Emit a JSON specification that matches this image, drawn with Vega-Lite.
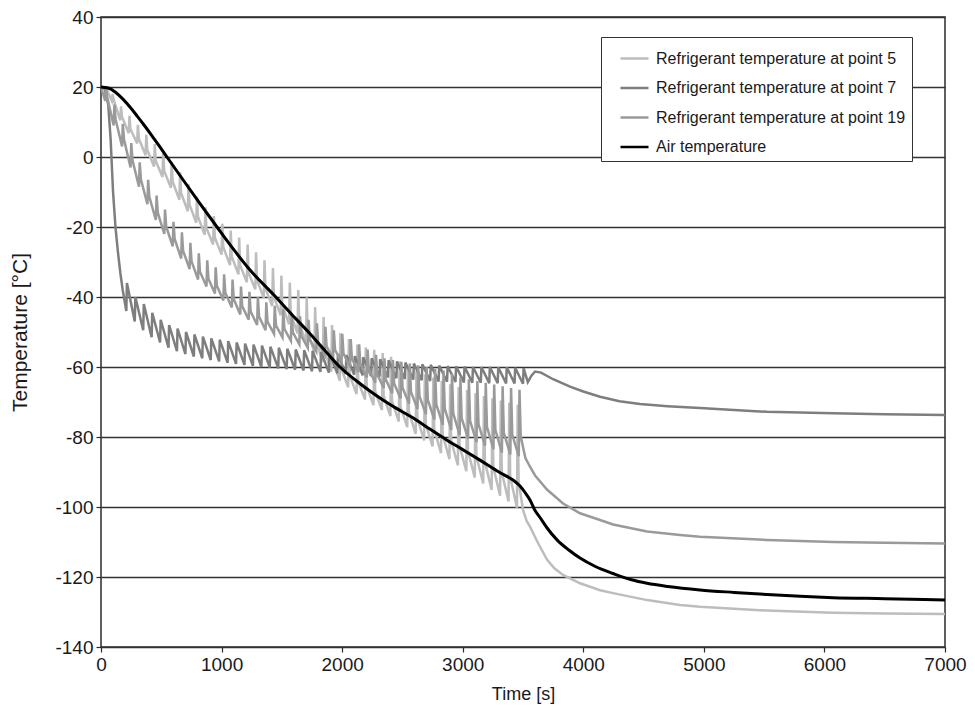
{
  "$schema": "https://vega.github.io/schema/vega-lite/v6.json",
  "width": 844,
  "height": 630,
  "autosize": "none",
  "padding": {"left": 101, "top": 17, "right": 30, "bottom": 68},
  "background": "white",
  "config": {
    "font": "Liberation Sans",
    "view": {"stroke": "#2b2b2b", "strokeWidth": 1.5},
    "axis": {
      "labelFont": "Liberation Sans",
      "titleFont": "Liberation Sans",
      "labelColor": "#1a1a1a",
      "titleColor": "#1a1a1a",
      "titleFontWeight": "normal",
      "tickColor": "#2b2b2b",
      "tickWidth": 1.2,
      "domain": false,
      "tickSize": 5,
      "labelFontSize": 19
    },
    "legend": {
      "labelFont": "Liberation Sans",
      "labelFontSize": 16,
      "labelColor": "#1a1a1a"
    }
  },
  "datasets": {
    "p5": [
      {"t":0,"v":20},{"t":45,"v":19.5},
      {"t":90,"v":16},{"t":96,"v":18},{"t":104,"v":16.5},
      {"t":160,"v":10.5},{"t":166,"v":14.5},{"t":174,"v":11.5},
      {"t":230,"v":6.8},{"t":236,"v":11.8},{"t":244,"v":8.0},
      {"t":300,"v":3.9},{"t":306,"v":9.2},{"t":314,"v":5.2},
      {"t":370,"v":0.5},{"t":376,"v":6.4},{"t":384,"v":2.0},
      {"t":440,"v":-2.7},{"t":446,"v":3.7},{"t":454,"v":-1.1},
      {"t":510,"v":-5.7},{"t":516,"v":1.3},{"t":524,"v":-4.0},
      {"t":580,"v":-8.8},{"t":586,"v":-1.4},{"t":594,"v":-7.0},
      {"t":650,"v":-12.2},{"t":656,"v":-4.4},{"t":664,"v":-10.3},
      {"t":720,"v":-15.5},{"t":726,"v":-7.8},{"t":734,"v":-13.6},
      {"t":790,"v":-18.8},{"t":796,"v":-11.4},{"t":804,"v":-17.0},
      {"t":860,"v":-22.2},{"t":866,"v":-14.4},{"t":874,"v":-20.3},
      {"t":930,"v":-25.0},{"t":936,"v":-16.9},{"t":944,"v":-23.0},
      {"t":1000,"v":-27.9},{"t":1006,"v":-19.1},{"t":1014,"v":-25.7},
      {"t":1070,"v":-30.9},{"t":1076,"v":-21.0},{"t":1084,"v":-28.4},
      {"t":1140,"v":-33.5},{"t":1146,"v":-23.0},{"t":1154,"v":-30.9},
      {"t":1210,"v":-35.8},{"t":1216,"v":-25.0},{"t":1224,"v":-33.1},
      {"t":1280,"v":-37.8},{"t":1286,"v":-27.2},{"t":1294,"v":-35.2},
      {"t":1350,"v":-40.2},{"t":1356,"v":-29.5},{"t":1364,"v":-37.5},
      {"t":1420,"v":-42.6},{"t":1426,"v":-31.7},{"t":1434,"v":-39.9},
      {"t":1490,"v":-45.2},{"t":1496,"v":-33.9},{"t":1504,"v":-42.4},
      {"t":1560,"v":-47.8},{"t":1566,"v":-35.9},{"t":1574,"v":-44.8},
      {"t":1630,"v":-50.4},{"t":1636,"v":-38.0},{"t":1644,"v":-47.3},
      {"t":1700,"v":-53.1},{"t":1706,"v":-40.1},{"t":1714,"v":-49.9},
      {"t":1770,"v":-55.8},{"t":1776,"v":-42.9},{"t":1784,"v":-52.6},
      {"t":1840,"v":-58.6},{"t":1846,"v":-45.7},{"t":1854,"v":-55.4},
      {"t":1910,"v":-61.3},{"t":1916,"v":-48.0},{"t":1924,"v":-58.0},
      {"t":1980,"v":-63.9},{"t":1986,"v":-50.3},{"t":1994,"v":-60.5},
      {"t":2050,"v":-65.8},{"t":2056,"v":-52.0},{"t":2064,"v":-62.4},
      {"t":2120,"v":-67.7},{"t":2126,"v":-53.6},{"t":2134,"v":-64.2},
      {"t":2190,"v":-69.3},{"t":2196,"v":-54.4},{"t":2204,"v":-65.6},
      {"t":2260,"v":-70.9},{"t":2266,"v":-55.1},{"t":2274,"v":-67.0},
      {"t":2330,"v":-72.3},{"t":2336,"v":-56.0},{"t":2344,"v":-68.2},
      {"t":2400,"v":-74.0},{"t":2406,"v":-57.1},{"t":2414,"v":-69.8},
      {"t":2470,"v":-75.6},{"t":2476,"v":-58.4},{"t":2484,"v":-71.3},
      {"t":2540,"v":-77.2},{"t":2546,"v":-59.8},{"t":2554,"v":-72.9},
      {"t":2610,"v":-79.1},{"t":2616,"v":-61.1},{"t":2624,"v":-74.6},
      {"t":2680,"v":-81.0},{"t":2686,"v":-62.1},{"t":2694,"v":-76.3},
      {"t":2750,"v":-82.7},{"t":2756,"v":-63.0},{"t":2764,"v":-77.8},
      {"t":2820,"v":-84.6},{"t":2826,"v":-63.9},{"t":2834,"v":-79.4},
      {"t":2890,"v":-86.3},{"t":2896,"v":-64.9},{"t":2904,"v":-81.0},
      {"t":2960,"v":-88.1},{"t":2966,"v":-65.7},{"t":2974,"v":-82.5},
      {"t":3030,"v":-89.8},{"t":3036,"v":-66.6},{"t":3044,"v":-84.0},
      {"t":3100,"v":-91.6},{"t":3106,"v":-67.5},{"t":3114,"v":-85.6},
      {"t":3170,"v":-93.3},{"t":3176,"v":-68.3},{"t":3184,"v":-87.1},
      {"t":3240,"v":-95.1},{"t":3246,"v":-68.9},{"t":3254,"v":-88.6},
      {"t":3310,"v":-96.8},{"t":3316,"v":-69.6},{"t":3324,"v":-90.0},
      {"t":3380,"v":-98.4},{"t":3386,"v":-70.2},{"t":3394,"v":-91.4},
      {"t":3450,"v":-100.2},{"t":3456,"v":-70.8},{"t":3464,"v":-92.9},
      {"t":3500,"v":-100.8},{"t":3530,"v":-104},{"t":3558,"v":-105.6},{"t":3620,"v":-110},{"t":3699,"v":-115},{"t":3760,"v":-117.5},{"t":3832,"v":-119.4},{"t":3973,"v":-121.8},{"t":4139,"v":-123.8},{"t":4247,"v":-124.6},{"t":4529,"v":-126.6},{"t":4802,"v":-128},{"t":4968,"v":-128.5},{"t":5250,"v":-129.1},{"t":5524,"v":-129.6},{"t":6071,"v":-130.2},{"t":6500,"v":-130.4},{"t":7000,"v":-130.6}
    ],
    "p7": [
      {"t":0,"v":20},{"t":30,"v":19.5},{"t":60,"v":15},{"t":80,"v":5},{"t":100,"v":-10},{"t":120,"v":-20},{"t":140,"v":-27},{"t":160,"v":-33},{"t":180,"v":-38},{"t":200,"v":-42},
      {"t":210,"v":-44},{"t":215,"v":-36},
      {"t":280,"v":-47},{"t":285,"v":-40},
      {"t":350,"v":-49.5},{"t":355,"v":-42},
      {"t":420,"v":-51.5},{"t":425,"v":-44.5},
      {"t":490,"v":-53},{"t":495,"v":-46.5},
      {"t":560,"v":-54.5},{"t":565,"v":-48},
      {"t":630,"v":-55.5},{"t":635,"v":-49},
      {"t":700,"v":-56.3},{"t":705,"v":-50},
      {"t":770,"v":-57},{"t":775,"v":-50.7},
      {"t":840,"v":-57.5},{"t":845,"v":-51.3},
      {"t":910,"v":-58},{"t":915,"v":-51.8},
      {"t":980,"v":-58.4},{"t":985,"v":-52.2},
      {"t":1050,"v":-58.8},{"t":1055,"v":-52.6},
      {"t":1120,"v":-59.1},{"t":1125,"v":-53},
      {"t":1190,"v":-59.4},{"t":1195,"v":-53.3},
      {"t":1260,"v":-59.7},{"t":1265,"v":-53.6},
      {"t":1330,"v":-60},{"t":1335,"v":-53.9},
      {"t":1400,"v":-60.2},{"t":1405,"v":-54.2},
      {"t":1470,"v":-60.4},{"t":1475,"v":-54.5},
      {"t":1540,"v":-60.6},{"t":1545,"v":-54.8},
      {"t":1610,"v":-60.8},{"t":1615,"v":-55},
      {"t":1680,"v":-61},{"t":1685,"v":-55.2},
      {"t":1750,"v":-61.2},{"t":1755,"v":-55.4},
      {"t":1820,"v":-61.4},{"t":1825,"v":-55.7},
      {"t":1890,"v":-61.6},{"t":1895,"v":-56},
      {"t":1960,"v":-61.8},{"t":1965,"v":-56.3},
      {"t":2030,"v":-62},{"t":2035,"v":-56.6},
      {"t":2100,"v":-62.2},{"t":2105,"v":-56.9},
      {"t":2170,"v":-62.4},{"t":2175,"v":-57.2},
      {"t":2240,"v":-62.6},{"t":2245,"v":-57.5},
      {"t":2310,"v":-62.8},{"t":2315,"v":-57.8},
      {"t":2380,"v":-63},{"t":2385,"v":-58.1},
      {"t":2450,"v":-63.2},{"t":2455,"v":-58.4},
      {"t":2520,"v":-63.4},{"t":2525,"v":-58.7},
      {"t":2590,"v":-63.6},{"t":2595,"v":-59},
      {"t":2660,"v":-63.8},{"t":2665,"v":-59.2},
      {"t":2730,"v":-64},{"t":2735,"v":-59.4},
      {"t":2800,"v":-64.1},{"t":2805,"v":-59.6},
      {"t":2870,"v":-64.2},{"t":2875,"v":-59.7},
      {"t":2940,"v":-64.3},{"t":2945,"v":-59.8},
      {"t":3010,"v":-64.4},{"t":3015,"v":-59.9},
      {"t":3080,"v":-64.5},{"t":3085,"v":-60},
      {"t":3150,"v":-64.5},{"t":3155,"v":-60},
      {"t":3220,"v":-64.6},{"t":3225,"v":-60},
      {"t":3290,"v":-64.6},{"t":3295,"v":-60.1},
      {"t":3360,"v":-64.7},{"t":3365,"v":-60.1},
      {"t":3430,"v":-64.7},{"t":3435,"v":-60.2},
      {"t":3500,"v":-64.8},{"t":3505,"v":-60.3},
      {"t":3540,"v":-64.3},{"t":3570,"v":-62.5},{"t":3600,"v":-61.3},{"t":3650,"v":-61.6},{"t":3750,"v":-63.5},{"t":3890,"v":-65.6},{"t":4000,"v":-67},{"t":4139,"v":-68.5},{"t":4300,"v":-69.8},{"t":4470,"v":-70.6},{"t":4700,"v":-71.2},{"t":4968,"v":-71.7},{"t":5250,"v":-72.3},{"t":5524,"v":-72.8},{"t":6071,"v":-73.2},{"t":6500,"v":-73.5},{"t":7000,"v":-73.7}
    ],
    "p19": [
      {"t":0,"v":20},
      {"t":35,"v":16},{"t":41,"v":20},{"t":51,"v":17.2},
      {"t":105,"v":9},{"t":111,"v":15},{"t":121,"v":10.8},
      {"t":175,"v":3},{"t":181,"v":9.5},{"t":191,"v":5.0},
      {"t":245,"v":-3},{"t":251,"v":4},{"t":261,"v":-0.9},
      {"t":315,"v":-8.5},{"t":321,"v":-1.5},{"t":331,"v":-6.4},
      {"t":385,"v":-13.5},{"t":391,"v":-6.5},{"t":401,"v":-11.4},
      {"t":455,"v":-18},{"t":461,"v":-11},{"t":471,"v":-15.9},
      {"t":525,"v":-22},{"t":531,"v":-15},{"t":541,"v":-19.9},
      {"t":595,"v":-25.5},{"t":601,"v":-18.5},{"t":611,"v":-23.4},
      {"t":665,"v":-29},{"t":671,"v":-21.5},{"t":681,"v":-26.8},
      {"t":735,"v":-32},{"t":741,"v":-24.5},{"t":751,"v":-29.8},
      {"t":805,"v":-35},{"t":811,"v":-27.5},{"t":821,"v":-32.8},
      {"t":875,"v":-37},{"t":881,"v":-29.5},{"t":891,"v":-34.8},
      {"t":945,"v":-39},{"t":951,"v":-31.5},{"t":961,"v":-36.8},
      {"t":1015,"v":-41},{"t":1021,"v":-33.5},{"t":1031,"v":-38.8},
      {"t":1085,"v":-43},{"t":1091,"v":-35},{"t":1101,"v":-40.6},
      {"t":1155,"v":-45},{"t":1161,"v":-37},{"t":1171,"v":-42.6},
      {"t":1225,"v":-46.5},{"t":1231,"v":-38.5},{"t":1241,"v":-44.1},
      {"t":1295,"v":-48},{"t":1301,"v":-40},{"t":1311,"v":-45.6},
      {"t":1365,"v":-49.5},{"t":1371,"v":-41.5},{"t":1381,"v":-47.1},
      {"t":1435,"v":-50.5},{"t":1441,"v":-42.5},{"t":1451,"v":-48.1},
      {"t":1505,"v":-51.5},{"t":1511,"v":-43.5},{"t":1521,"v":-49.1},
      {"t":1575,"v":-52.5},{"t":1581,"v":-44.5},{"t":1591,"v":-50.1},
      {"t":1645,"v":-53.5},{"t":1651,"v":-45.5},{"t":1661,"v":-51.1},
      {"t":1715,"v":-54.5},{"t":1721,"v":-46.5},{"t":1731,"v":-52.1},
      {"t":1785,"v":-55.5},{"t":1791,"v":-47.5},{"t":1801,"v":-53.1},
      {"t":1855,"v":-56.5},{"t":1861,"v":-48.5},{"t":1871,"v":-54.1},
      {"t":1925,"v":-57.5},{"t":1931,"v":-49.5},{"t":1941,"v":-55.1},
      {"t":1995,"v":-58.5},{"t":2001,"v":-50.5},{"t":2011,"v":-56.1},
      {"t":2065,"v":-60},{"t":2071,"v":-52},{"t":2081,"v":-57.6},
      {"t":2135,"v":-61.5},{"t":2141,"v":-53.5},{"t":2151,"v":-59.1},
      {"t":2205,"v":-63},{"t":2211,"v":-55},{"t":2221,"v":-60.6},
      {"t":2275,"v":-64.5},{"t":2281,"v":-56.5},{"t":2291,"v":-62.1},
      {"t":2345,"v":-66},{"t":2351,"v":-57.5},{"t":2361,"v":-63.5},
      {"t":2415,"v":-67.5},{"t":2421,"v":-58},{"t":2431,"v":-64.7},
      {"t":2485,"v":-69},{"t":2491,"v":-58.5},{"t":2501,"v":-65.9},
      {"t":2555,"v":-70.5},{"t":2561,"v":-59},{"t":2571,"v":-67.1},
      {"t":2625,"v":-72},{"t":2631,"v":-59.5},{"t":2641,"v":-68.3},
      {"t":2695,"v":-73.5},{"t":2701,"v":-60},{"t":2711,"v":-69.5},
      {"t":2765,"v":-75},{"t":2771,"v":-60.5},{"t":2781,"v":-70.7},
      {"t":2835,"v":-76.5},{"t":2841,"v":-61},{"t":2851,"v":-71.9},
      {"t":2905,"v":-78},{"t":2911,"v":-62},{"t":2921,"v":-73.2},
      {"t":2975,"v":-79.5},{"t":2981,"v":-63},{"t":2991,"v":-74.6},
      {"t":3045,"v":-80.5},{"t":3051,"v":-63.5},{"t":3061,"v":-75.4},
      {"t":3115,"v":-81.5},{"t":3121,"v":-64},{"t":3131,"v":-76.3},
      {"t":3185,"v":-82.5},{"t":3191,"v":-64.5},{"t":3201,"v":-77.1},
      {"t":3255,"v":-83.5},{"t":3261,"v":-65},{"t":3271,"v":-78.0},
      {"t":3325,"v":-84.5},{"t":3331,"v":-65.5},{"t":3341,"v":-78.8},
      {"t":3395,"v":-85},{"t":3401,"v":-66},{"t":3411,"v":-79.3},
      {"t":3465,"v":-85.5},{"t":3471,"v":-66.5},{"t":3481,"v":-79.8},
      {"t":3520,"v":-86},{"t":3558,"v":-88.5},{"t":3600,"v":-91},{"t":3699,"v":-95},{"t":3832,"v":-99},{"t":3973,"v":-101.8},{"t":4139,"v":-103.7},{"t":4247,"v":-105},{"t":4529,"v":-107},{"t":4802,"v":-108},{"t":4968,"v":-108.5},{"t":5524,"v":-109.4},{"t":6071,"v":-110},{"t":6500,"v":-110.2},{"t":7000,"v":-110.4}
    ],
    "air": [
      {"t":0,"v":20},{"t":60,"v":19.7},{"t":120,"v":18.5},{"t":180,"v":16.6},{"t":240,"v":14.3},{"t":300,"v":11.7},{"t":360,"v":9.0},{"t":420,"v":6.2},{"t":480,"v":3.3},{"t":547,"v":0},{"t":680,"v":-6.5},{"t":821,"v":-13.3},{"t":962,"v":-20},{"t":1095,"v":-26.2},{"t":1236,"v":-32.3},{"t":1430,"v":-39.3},{"t":1580,"v":-44.9},{"t":1709,"v":-49.6},{"t":1850,"v":-55},{"t":1982,"v":-60},{"t":2120,"v":-64},{"t":2256,"v":-67.5},{"t":2400,"v":-70.8},{"t":2590,"v":-74.6},{"t":2730,"v":-77.8},{"t":2870,"v":-80.9},{"t":3000,"v":-83.6},{"t":3143,"v":-86.6},{"t":3300,"v":-90},{"t":3417,"v":-92.3},{"t":3475,"v":-94},{"t":3520,"v":-96},{"t":3558,"v":-98},{"t":3600,"v":-101},{"t":3641,"v":-103},{"t":3700,"v":-106},{"t":3782,"v":-109.4},{"t":3880,"v":-112.3},{"t":3973,"v":-114.6},{"t":4100,"v":-117},{"t":4247,"v":-119},{"t":4400,"v":-120.8},{"t":4529,"v":-121.8},{"t":4700,"v":-122.7},{"t":4968,"v":-123.7},{"t":5250,"v":-124.4},{"t":5524,"v":-125},{"t":5800,"v":-125.5},{"t":6071,"v":-125.9},{"t":6500,"v":-126.2},{"t":7000,"v":-126.6}
    ]
  },
  "encoding": {
    "x": {
      "field": "t",
      "type": "quantitative",
      "scale": {"domain": [0, 7000], "nice": false},
      "axis": {
        "values": [0, 1000, 2000, 3000, 4000, 5000, 6000, 7000],
        "format": "d",
        "title": "Time [s]",
        "titleFontSize": 18,
        "grid": false,
        "labelFlush": false,
        "labelPadding": 3,
        "titlePadding": 11
      }
    },
    "y": {
      "field": "v",
      "type": "quantitative",
      "scale": {"domain": [-140, 40], "nice": false},
      "axis": {
        "values": [-140, -120, -100, -80, -60, -40, -20, 0, 20, 40],
        "title": "Temperature [°C]",
        "titleFontSize": 21,
        "grid": true,
        "gridColor": "#333333",
        "gridWidth": 1.5,
        "labelPadding": 3,
        "titlePadding": 24,
        "labelExpr": "replace(datum.label, '−', '-')"
      }
    },
    "color": {
      "scale": {
        "domain": ["Refrigerant temperature at point 5", "Refrigerant temperature at point 7", "Refrigerant temperature at point 19", "Air temperature"],
        "range": ["#bdbdbd", "#7e7e7e", "#9a9a9a", "#000000"]
      },
      "legend": {
        "title": null,
        "orient": "none",
        "legendX": 500,
        "legendY": 20,
        "symbolType": "stroke",
        "symbolSize": 784,
        "symbolStrokeWidth": 2.5,
        "symbolOffset": 12,
        "labelOffset": 6,
        "labelLimit": 400,
        "rowPadding": 5.5,
        "padding": 6,
        "strokeColor": "#333333",
        "fillColor": "white"
      }
    }
  },
  "layer": [
    {"data": {"name": "p5"}, "mark": {"type": "line", "strokeWidth": 2.5, "clip": true}, "encoding": {"color": {"datum": "Refrigerant temperature at point 5"}}},
    {"data": {"name": "p7"}, "mark": {"type": "line", "strokeWidth": 2.5, "clip": true}, "encoding": {"color": {"datum": "Refrigerant temperature at point 7"}}},
    {"data": {"name": "p19"}, "mark": {"type": "line", "strokeWidth": 2.5, "clip": true}, "encoding": {"color": {"datum": "Refrigerant temperature at point 19"}}},
    {"data": {"name": "air"}, "mark": {"type": "line", "strokeWidth": 3, "interpolate": "monotone", "clip": true}, "encoding": {"color": {"datum": "Air temperature"}}}
  ]
}
